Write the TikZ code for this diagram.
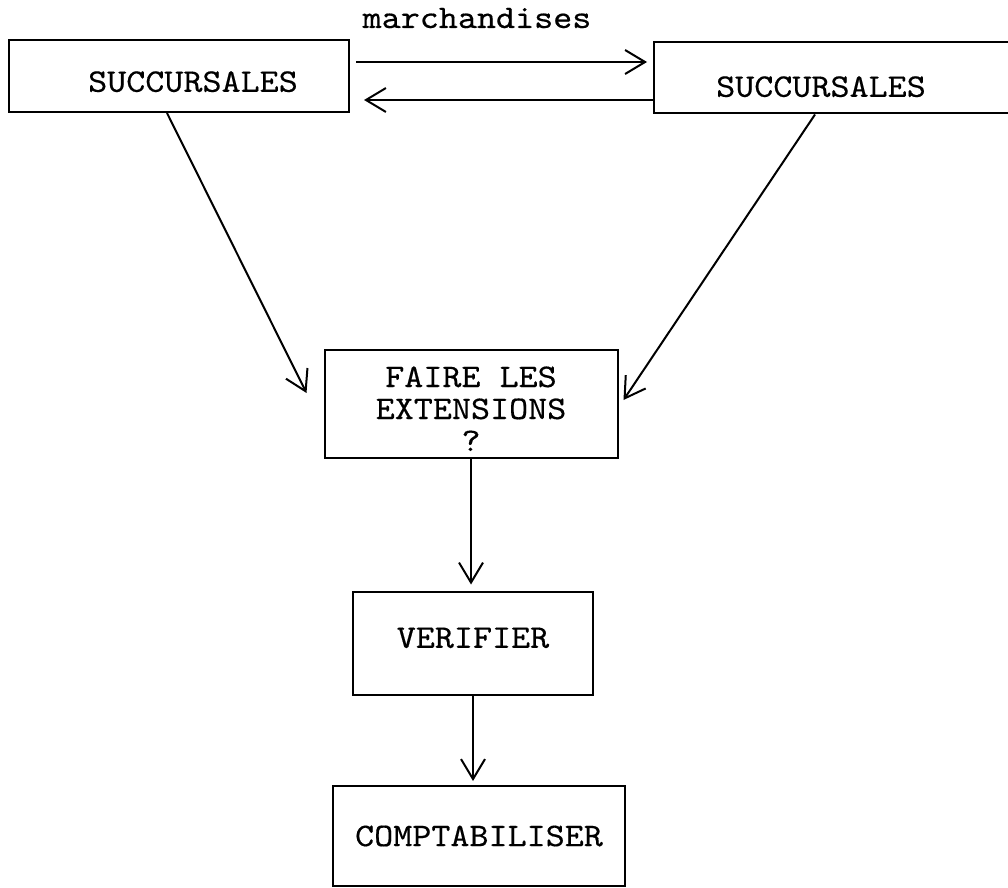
\documentclass[tikz,border=0pt]{standalone}
\usepackage{fontspec}
\newfontfamily\typewriter[FakeStretch=1.1,FakeBold=0.4]{lmmono10-regular.otf}
\usetikzlibrary{arrows.meta,calc,positioning}

\begin{document}
\begin{tikzpicture}[x=0.5pt,y=-0.5pt,>={Straight Barb[length=10pt,width=12pt]},
    procbox/.style={draw,line width=1pt,inner sep=0pt,align=center,
      font=\typewriter\fontsize{16.5}{16}\selectfont},
    flow/.style={->,line width=1pt}]
  \useasboundingbox (0,0) rectangle (1008,888);
  % les deux succursales
  \node[procbox,minimum width=170pt,minimum height=36pt,text height=15.8pt,text depth=0pt] (suc1) at (179,76) {\hspace*{14pt}SUCCURSALES};
  \node[procbox,minimum width=180pt,minimum height=35.5pt,text height=18.8pt,text depth=0pt] (suc2) at (834,78) {SUCCURSALES\hspace*{13pt}};
  \node[font=\typewriter\fontsize{16.5}{16}\selectfont,anchor=base] (merch) at (477,28) {marchandises};
  \draw[flow,shorten <=3pt,shorten >=3pt] ([yshift=7pt]suc1.east) -- ([yshift=7pt]suc1.east -| suc2.west);
  \draw[flow,shorten >=7pt] ([yshift=-12pt]suc1.east -| suc2.west) -- ([yshift=-12pt]suc1.east);
  % traitement
  \node[procbox,minimum width=146.5pt,minimum height=54pt] (ext) at (471,404) {\rule{0pt}{15pt}FAIRE LES\\EXTENSIONS\\?};
  \node[procbox,minimum width=120pt,minimum height=51.5pt,text height=4.8pt,text depth=0pt] (verif) at (473,643) {VERIFIER};
  \node[procbox,minimum width=146pt,minimum height=50pt] (compta) at (479,836) {COMPTABILISER};
  \draw[flow] ($(suc1.south)+(-12,0)$) -- ($(ext.west)+(-17,-11)$);
  \draw[flow] ($(suc2.south)+(-19,0)$) -- ($(ext.east)+(5,-4)$);
  \draw[flow,shorten >=3pt] (ext.south) -- (ext.south |- verif.north);
  \draw[flow,shorten >=2pt] (verif.south) -- (verif.south |- compta.north);
\end{tikzpicture}
\end{document}
